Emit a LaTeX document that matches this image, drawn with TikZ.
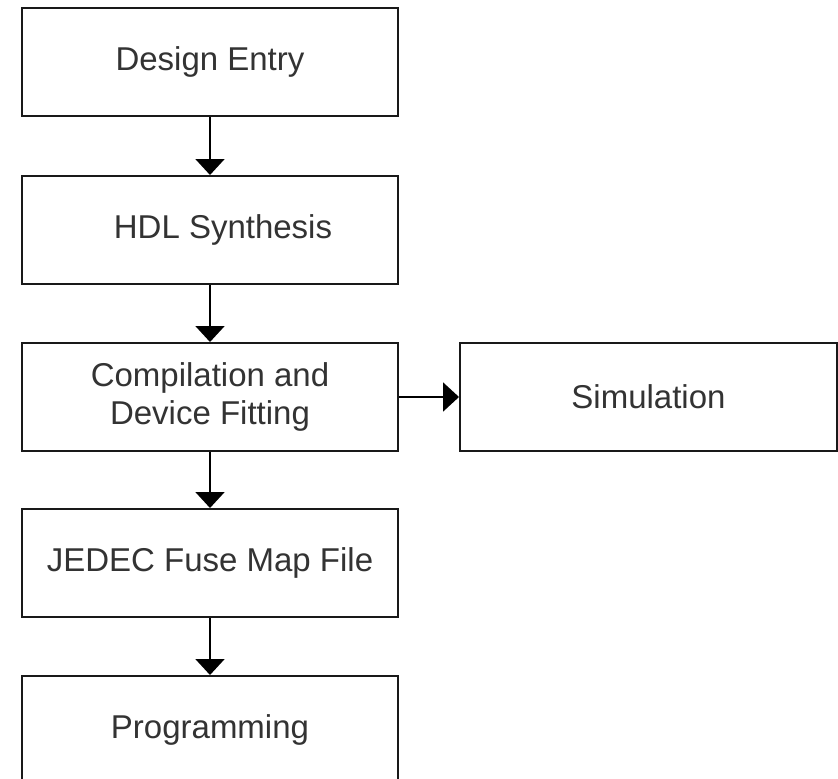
\documentclass[tikz,border=0pt]{standalone}
\usepackage{fontspec}
\setmainfont{Liberation Sans}
\usetikzlibrary{arrows.meta}
\begin{document}
\begin{tikzpicture}[x=1pt,y=-1pt,
  stage/.style={draw=black!90, line width=2pt, rectangle, inner sep=0pt,
    minimum width=376pt, minimum height=108pt, align=center,
    font=\fontsize{33}{38}\selectfont, text=black!80},
  flow/.style={draw=black, line width=2pt,
    -{Triangle[width=29pt,length=16pt]}}]
  \useasboundingbox (0,0) rectangle (838,779);
  \clip (0,0) rectangle (838,779);
  \fill[white] (0,0) rectangle (838,779);

  % main column of design steps
  \node[stage] (entry) at (210,62)  {Design Entry};
  \node[stage] (hdl)   at (210,230) {\hspace*{26pt}HDL Synthesis};
  \node[stage] (comp)  at (210,397) {Compilation and\\Device Fitting};
  \node[stage] (jedec) at (210,563) {JEDEC Fuse Map File};
  \node[stage, minimum height=110pt] (prog) at (210,731)
    {\raisebox{9pt}{Programming}};

  % side step
  \node[stage, minimum width=377pt] (sim) at (648.5,397) {Simulation};

  % connectors
  \draw[flow] (entry) -- (hdl);
  \draw[flow] (hdl) -- (comp);
  \draw[flow] (comp) -- (jedec);
  \draw[flow] (jedec) -- (prog);
  \draw[flow] (comp) -- (sim);
\end{tikzpicture}
\end{document}
